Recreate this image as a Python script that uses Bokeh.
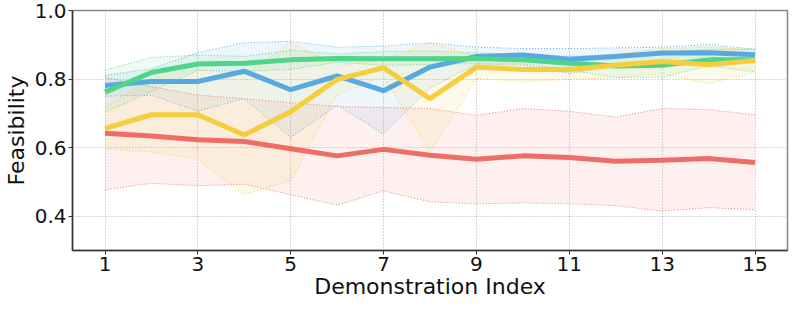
from bokeh.plotting import figure
from bokeh.models import FixedTicker, ColumnDataSource, CustomJSTickFormatter
from bokeh.embed import file_html
from bokeh.resources import INLINE

idx = list(range(1, 16))

red_mean = [0.642, 0.634, 0.623, 0.618, 0.597, 0.576, 0.595, 0.578, 0.566, 0.576, 0.571, 0.560, 0.563, 0.568, 0.557]
red_hi = [0.805, 0.778, 0.753, 0.743, 0.731, 0.720, 0.717, 0.714, 0.694, 0.714, 0.706, 0.689, 0.714, 0.711, 0.696]
red_lo = [0.477, 0.496, 0.489, 0.493, 0.463, 0.432, 0.474, 0.442, 0.436, 0.439, 0.436, 0.431, 0.415, 0.425, 0.419]

blue_mean = [0.781, 0.793, 0.793, 0.823, 0.769, 0.809, 0.766, 0.835, 0.866, 0.870, 0.858, 0.866, 0.876, 0.877, 0.871]
blue_hi = [0.811, 0.830, 0.877, 0.906, 0.910, 0.893, 0.896, 0.906, 0.893, 0.889, 0.889, 0.891, 0.893, 0.901, 0.887]
blue_lo = [0.750, 0.753, 0.706, 0.743, 0.630, 0.724, 0.640, 0.774, 0.844, 0.840, 0.816, 0.839, 0.849, 0.854, 0.859]

green_mean = [0.762, 0.819, 0.844, 0.846, 0.856, 0.860, 0.859, 0.859, 0.860, 0.856, 0.846, 0.838, 0.840, 0.856, 0.856]
green_hi = [0.826, 0.863, 0.870, 0.866, 0.884, 0.873, 0.880, 0.882, 0.876, 0.873, 0.866, 0.872, 0.877, 0.887, 0.887]
green_lo = [0.703, 0.764, 0.826, 0.823, 0.828, 0.849, 0.840, 0.843, 0.845, 0.844, 0.826, 0.805, 0.805, 0.839, 0.821]

yellow_mean = [0.656, 0.696, 0.696, 0.637, 0.705, 0.799, 0.833, 0.743, 0.835, 0.828, 0.828, 0.840, 0.851, 0.842, 0.854]
yellow_hi = [0.717, 0.802, 0.828, 0.813, 0.906, 0.840, 0.857, 0.906, 0.866, 0.863, 0.859, 0.873, 0.889, 0.893, 0.886]
yellow_lo = [0.596, 0.587, 0.566, 0.463, 0.503, 0.755, 0.807, 0.587, 0.802, 0.793, 0.799, 0.804, 0.816, 0.786, 0.821]

x_ticks = [1, 3, 5, 7, 9, 11, 13, 15]
y_ticks = [0.4, 0.6, 0.8, 1.0]

RED = "#EE6E66"
BLUE = "#57A9E0"
GREEN = "#4FD48A"
YELLOW = "#F5CE3E"

p = figure(width=789, height=301, x_range=(0.3, 15.7), y_range=(0.3, 1.0),
           output_backend="svg", toolbar_location=None,
           min_border_left=60, min_border_right=2, min_border_top=10, min_border_bottom=50)

series = [
    (RED, red_mean, red_hi, red_lo),
    (BLUE, blue_mean, blue_hi, blue_lo),
    (GREEN, green_mean, green_hi, green_lo),
    (YELLOW, yellow_mean, yellow_hi, yellow_lo),
]

for color, m, hi, lo in series:
    src = ColumnDataSource(dict(x=idx, m=m, hi=hi, lo=lo))
    p.varea(x="x", y1="lo", y2="hi", source=src, fill_color=color, fill_alpha=0.1)
    p.line(x="x", y="hi", source=src, line_color=color, line_width=1, line_dash="1 2", line_alpha=0.9)
    p.line(x="x", y="lo", source=src, line_color=color, line_width=1, line_dash="1 2", line_alpha=0.9)

order = [BLUE, GREEN, YELLOW, RED]
means = {RED: red_mean, BLUE: blue_mean, GREEN: green_mean, YELLOW: yellow_mean}
for c in order:
    p.line(idx, means[c], line_color=c, line_width=5)

p.xaxis.ticker = FixedTicker(ticks=x_ticks)
p.yaxis.ticker = FixedTicker(ticks=y_ticks)
p.yaxis.formatter = CustomJSTickFormatter(code="return tick.toFixed(1);")

for ax in (p.xaxis, p.yaxis):
    ax.major_label_text_font = "DejaVu Sans"
    ax.major_label_text_font_size = "20px"
    ax.major_label_text_color = "#111111"
    ax.axis_label_text_font = "DejaVu Sans"
    ax.axis_label_text_font_size = "22px"
    ax.axis_label_text_font_style = "normal"
    ax.axis_label_text_color = "#111111"
    ax.axis_line_color = "#333333"
    ax.axis_line_width = 1.5
    ax.major_tick_line_color = "#333333"
    ax.major_tick_out = 4
    ax.major_tick_in = 0
    ax.minor_tick_line_color = None

p.xaxis.axis_label = "Demonstration Index"
p.yaxis.axis_label = "Feasibility"
p.xaxis.major_label_standoff = 2
p.yaxis.major_label_standoff = 2
p.xaxis.axis_label_standoff = 0
p.yaxis.axis_label_standoff = 3

p.xgrid.ticker = FixedTicker(ticks=x_ticks)
p.ygrid.ticker = FixedTicker(ticks=y_ticks)
p.grid.grid_line_color = "#b0b0b0"
p.grid.grid_line_dash = "1 2"
p.grid.grid_line_width = 1
p.outline_line_color = "#888888"
p.outline_line_width = 1.5
p.background_fill_color = "white"
p.border_fill_color = "white"

open("out.html", "w").write(file_html(p, INLINE))
